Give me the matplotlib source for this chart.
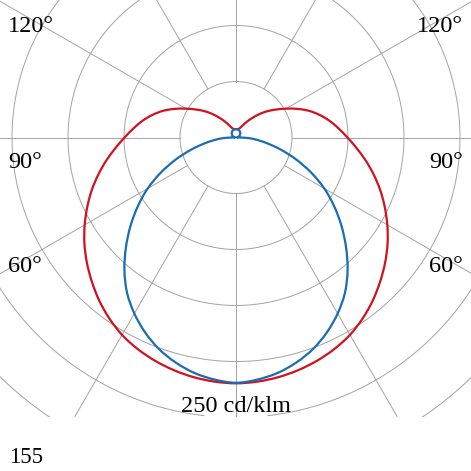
"""
plot.py

Polar light distribution curve (cd/klm) of a luminaire, drawn on a
cartesian axis: 0 deg points down, 180 deg points up.
"""

import numpy as np
import matplotlib
matplotlib.use("Agg")
import matplotlib.pyplot as plt
from matplotlib.path import Path
from matplotlib.patches import PathPatch

# Gamma angles (degrees from nadir)
angles_c0 = [0, 5, 10, 15, 20, 25, 30, 35, 40, 45, 50, 55, 60, 65, 70, 75, 80, 85,
             90, 95, 100, 105, 110, 115, 120, 125, 130, 135, 140, 145, 150, 155,
             160, 165, 170, 175, 180]
# C0-C180 plane (red)
intensity_c0 = [219.5, 218.8, 217.3, 215.0, 212.0, 208.2, 203.5, 197.2, 190.0, 182.0,
                173.8, 165.2, 156.0, 146.5, 137.0, 127.2, 117.5, 108.0, 99.5, 92.0,
                85.0, 77.5, 69.5, 60.5, 51.5, 43.5, 36.5, 29.5, 23.0, 17.5, 13.0,
                10.0, 8.5, 7.9, 7.6, 7.5, 7.5]

angles_c90 = [0, 5, 10, 15, 20, 25, 30, 35, 40, 45, 50, 55, 60, 65, 70, 75, 80, 85,
              88, 90, 95, 100, 110, 120, 135, 150, 165, 180]
# C90-C270 plane (blue)
intensity_c90 = [219.0, 217.0, 213.5, 208.0, 201.0, 192.0, 181.5, 169.5, 155.0, 139.0,
                 123.0, 107.0, 91.0, 74.0, 57.0, 41.0, 27.0, 16.0, 9.0, 3.0, 0.7,
                 1.3, 2.6, 3.8, 5.4, 6.6, 7.3, 7.5]

ring_values = [50, 100, 150, 200, 250, 300]
spoke_angles = [0, 30, 60, 90, 120, 150, 180]
angle_labels = ["120°", "90°", "60°"]
scale_label = "250 cd/klm"
page_number = "155"

RED = "#d0121f"
BLUE = "#1b6db3"
GRID = "#a3a3a3"

plt.rcParams["font.family"] = ["Liberation Serif", "DejaVu Serif"]

W = H = 471
fig = plt.figure(figsize=(W / 100, H / 100), dpi=100)

# axes covers the picture down to the 250 cd/klm ring
px_per_cd = 1.12
cx, cy, bottom = 236.0, 137.5, 417.0
ax = fig.add_axes([0, 1 - bottom / H, 1, bottom / H])
ax.set_xlim(-cx / px_per_cd, (W - cx) / px_per_cd)
ax.set_ylim(-(bottom - cy) / px_per_cd, cy / px_per_cd)
ax.axis("off")


def to_xy(gamma_deg, r, side=1):
    g = np.radians(np.asarray(gamma_deg, dtype=float))
    r = np.asarray(r, dtype=float)
    return side * r * np.sin(g), -r * np.cos(g)


def smooth_path(x, y):
    """Catmull-Rom through the points, as cubic Bezier segments."""
    p = np.column_stack([x, y])
    ext = np.vstack([p[0], p, p[-1]])
    verts = [p[0]]
    codes = [Path.MOVETO]
    for i in range(1, len(ext) - 2):
        c1 = ext[i] + (ext[i + 1] - ext[i - 1]) / 6
        c2 = ext[i + 1] - (ext[i + 2] - ext[i]) / 6
        verts += [c1, c2, ext[i + 1]]
        codes += [Path.CURVE4] * 3
    return Path(verts, codes)


def draw_curve(angles, values, color):
    # left half from 180 down to 0, then right half back up to 180
    xl, yl = to_xy(angles[::-1], values[::-1], -1)
    xr, yr = to_xy(angles[1:], values[1:], 1)
    path = smooth_path(np.r_[xl, xr], np.r_[yl, yr])
    ax.add_patch(PathPatch(path, fill=False, edgecolor=color, lw=1.6,
                           capstyle="round", joinstyle="round", zorder=3))


# rings
for val in ring_values:
    if val == 250:
        # leave a gap below the scale label
        gap = np.degrees(np.arcsin(28.6 / val))
        t = np.linspace(gap, 360 - gap, 721)
    else:
        t = np.linspace(0, 360, 721)
    x, y = to_xy(t, np.full_like(t, val))
    ax.plot(x, y, color=GRID, lw=0.7, zorder=1)

# spokes start at the first ring
for a in spoke_angles:
    for side in (1, -1):
        x, y = to_xy([a, a], [ring_values[0], 450], side)
        ax.plot(x, y, color=GRID, lw=0.7, zorder=1)

draw_curve(angles_c0, intensity_c0, RED)
draw_curve(angles_c90, intensity_c90, BLUE)

# angle labels
label_base = [32, 168, 272]
for text, yb in zip(angle_labels, label_base):
    fig.text(8 / W, 1 - yb / H, text, fontsize=17.5, ha="left", va="baseline")
    fig.text(463 / W, 1 - yb / H, text, fontsize=17.5, ha="right", va="baseline")

fig.text(cx / W, 1 - 411.5 / H, scale_label, fontsize=17.5, ha="center", va="baseline")
fig.text(9 / W, 1 - 463 / H, page_number, fontsize=16.5, ha="left", va="baseline")

fig.savefig("out.png", dpi=100, facecolor="white")
plt.close(fig)
